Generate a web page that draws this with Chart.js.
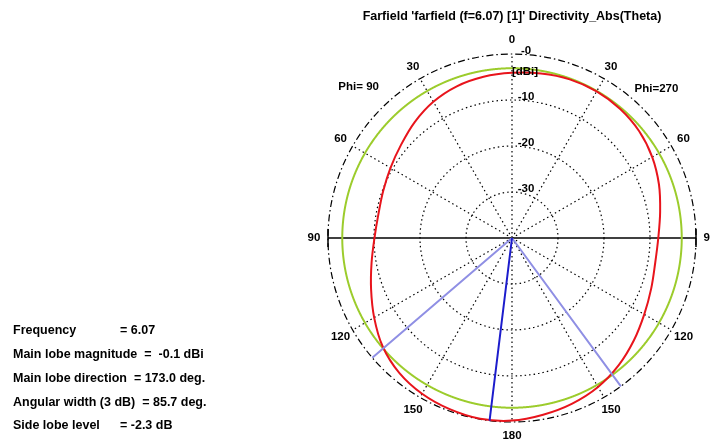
<!DOCTYPE html>
<html>
<head>
<meta charset="utf-8">
<title>Farfield directivity</title>
<script src="https://cdn.jsdelivr.net/npm/chart.js@4/dist/chart.umd.min.js"></script>
<style>
  html, body { margin: 0; padding: 0; background: #fff; overflow: hidden; }
  #wrap { position: relative; width: 710px; height: 443px; }
</style>
</head>
<body>
<div id="wrap"><canvas id="farfield"></canvas></div>
<script>
// theta samples (deg) for both cuts
const thetaDeg = [0, 10, 20, 30, 40, 50, 60, 70, 80, 90, 100, 110, 120, 130, 140, 150, 160, 170, 180];
// directivity abs(theta) in dBi, phi = 90 cut (left half of the plot)
const dirPhi90 = [-4.1, -4.4, -4.9, -5.8, -7.1, -8.5, -9.5, -10.2, -10.5, -10.1, -9.0, -7.4, -5.4, -3.3, -1.8, -0.9, -0.4, -0.1, -0.3];
// phi = 270 cut (right half of the plot)
const dirPhi270 = [-4.1, -3.7, -3.3, -3.2, -3.4, -3.9, -4.8, -6.0, -7.3, -8.2, -8.4, -7.8, -6.8, -5.4, -3.9, -2.6, -1.7, -1.0, -0.3];

const mainLobeDb = -0.1;
const mainLobeTheta = 173.0;       // on the phi = 90 side
const edgeThetaPhi90 = 130.6;      // -3 dB points
const edgeThetaPhi270 = 143.7;

const angleTickLabels = ['0', '30', '60', '90', '120', '150', '180', '150', '120', '90', '60', '30'];
const ringValues = [0, -10, -20, -30];
const ringTickLabels = ['-0', '-10', '-20', '-30'];
const infoLines = [
  ['Frequency', '= 6.07'],
  ['Main lobe magnitude', '=  -0.1 dBi'],
  ['Main lobe direction', '= 173.0 deg.'],
  ['Angular width (3 dB)', '= 85.7 deg.'],
  ['Side lobe level', '= -2.3 dB']
];

const DB_MIN = -40, DB_MAX = 0;
const STEPS = 3600;                 // one label every 0.1 deg, clockwise from top
const idxRight = t => Math.round(t * 10) % STEPS;          // phi = 270
const idxLeft = t => Math.round((360 - t) * 10) % STEPS;   // phi = 90

const labels = Array.from({ length: STEPS }, (_, i) => i / 10);
const blank = () => new Array(STEPS).fill(null);

const pattern = blank();
thetaDeg.forEach((t, k) => {
  pattern[idxRight(t)] = dirPhi270[k];
  pattern[idxLeft(t)] = dirPhi90[k];
});

const threeDb = new Array(STEPS).fill(mainLobeDb - 3);

function ray(idx) {
  const d = blank();
  d[idx === 0 ? 1 : 0] = DB_MIN;   // centre
  d[idx] = DB_MAX;
  return d;
}

const FONT = '"Liberation Sans", Arial, sans-serif';

const polarText = {
  id: 'polarText',
  afterDraw(chart) {
    const s = chart.scales.r;
    const ctx = chart.ctx;
    const R = s.drawingArea;
    ctx.save();
    ctx.fillStyle = '#000';
    ctx.textAlign = 'center';
    ctx.textBaseline = 'middle';
    ctx.font = 'bold 11.5px ' + FONT;

    // theta labels round the outside
    angleTickLabels.forEach((txt, k) => {
      const p = s.getPointPosition(k * 300, R + 14);
      ctx.fillText(txt, p.x, p.y);
    });
    const pl = s.getPointPosition(3145, R + 31);
    ctx.fillText('Phi= 90', pl.x, pl.y);
    const pr = s.getPointPosition(440, R + 24);
    ctx.fillText('Phi=270', pr.x, pr.y);

    // ring values along the vertical axis
    ringValues.forEach((v, k) => {
      ctx.fillText(ringTickLabels[k], s.xCenter + 14, s.yCenter - s.getDistanceFromCenterForValue(v) - 3);
    });
    ctx.fillText('[dBi]', s.xCenter + 13, s.yCenter - R + 18);

    // end marks on the 90 deg axis
    ctx.strokeStyle = '#000';
    ctx.lineWidth = 1.5;
    ctx.beginPath();
    [-1, 1].forEach(sg => {
      ctx.moveTo(s.xCenter + sg * R, s.yCenter - 9);
      ctx.lineTo(s.xCenter + sg * R, s.yCenter + 9);
    });
    ctx.stroke();

    // summary block
    ctx.textAlign = 'left';
    ctx.font = 'bold 12.5px ' + FONT;
    infoLines.forEach(([name, val], k) => {
      const y = 331 + k * 23.7;
      ctx.fillText(name, 13, y);
      const w = ctx.measureText(name).width;
      ctx.fillText(val, Math.max(13 + w + 7, 120), y);
    });
    ctx.restore();
  }
};

new Chart(document.getElementById('farfield'), {
  type: 'radar',
  data: {
    labels: labels,
    datasets: [
      { label: 'main lobe', data: ray(idxLeft(mainLobeTheta)), borderColor: '#1c1ccc', borderWidth: 2, tension: 0 },
      { label: '3 dB phi=90', data: ray(idxLeft(edgeThetaPhi90)), borderColor: '#8f8fe4', borderWidth: 2, tension: 0 },
      { label: '3 dB phi=270', data: ray(idxRight(edgeThetaPhi270)), borderColor: '#8f8fe4', borderWidth: 2, tension: 0 },
      { label: 'Directivity', data: pattern, borderColor: '#e8141c', borderWidth: 2, tension: 0.35 },
      { label: '-3 dB', data: threeDb, borderColor: '#9ccc2c', borderWidth: 2, tension: 0 }
    ]
  },
  options: {
    responsive: true,
    maintainAspectRatio: false,
    animation: false,
    spanGaps: true,
    elements: {
      point: { radius: 0, hoverRadius: 0 },
      line: { fill: false }
    },
    layout: { padding: { left: 328, right: 14, top: 5, bottom: 20 } },
    plugins: {
      legend: { display: false },
      tooltip: { enabled: false },
      title: {
        display: true,
        text: "Farfield 'farfield (f=6.07) [1]' Directivity_Abs(Theta)",
        color: '#000',
        font: { family: FONT, size: 12.5, weight: 'bold', lineHeight: 1.2 },
        padding: { top: 4, bottom: 30 }
      }
    },
    scales: {
      r: {
        min: DB_MIN,
        max: DB_MAX,
        ticks: { display: false, stepSize: 10 },
        pointLabels: { display: false },
        grid: {
          circular: true,
          color: ctx => ctx.index === 0 ? 'rgba(0,0,0,0)' : '#000',
          lineWidth: 1.2
        },
        border: {
          dash: ctx => ctx.index === 4 ? [7, 3, 1.5, 3] : [1.5, 3]
        },
        angleLines: {
          color: '#000',
          lineWidth: ctx => (ctx.index % 300 === 0 ? (ctx.index % 1800 === 900 ? 1.3 : 1.2) : 0),
          borderDash: ctx => (ctx.index % 1800 === 900 ? [] : [1.5, 3])
        }
      }
    }
  },
  plugins: [polarText]
});
</script>
</body>
</html>
